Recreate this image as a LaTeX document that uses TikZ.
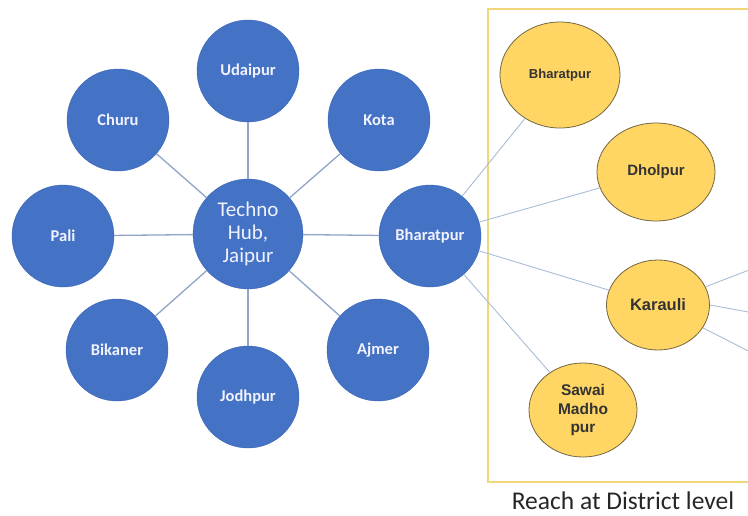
\documentclass[tikz,border=0pt]{standalone}
\usepackage{fontspec}
\setmainfont{Liberation Sans}
\newfontfamily\calibri{Carlito}
\usetikzlibrary{shapes.geometric, positioning}
\definecolor{hubblue}{HTML}{4472C4}
\definecolor{hubedge}{HTML}{3C66B4}
\definecolor{distyellow}{HTML}{FFD663}
\definecolor{distedge}{HTML}{736640}
\definecolor{spokecol}{HTML}{8FA4C6}
\definecolor{linkcol}{HTML}{A9BCD6}
\definecolor{boxcol}{HTML}{F0D878}
\tikzstyle{city} = [circle, minimum size=102pt, inner sep=0pt, draw=hubedge, fill=hubblue, text=white!95!blue, font=\calibri\bfseries\fontsize{16.5}{18}\selectfont]
\tikzstyle{hub} = [city, minimum size=110pt, align=center, font=\calibri\fontsize{21}{23}\selectfont]
\tikzstyle{district} = [ellipse, inner sep=0pt, draw=distedge, line width=0.8pt, fill=distyellow, text=black!80, align=center, font=\bfseries\fontsize{13}{15}\selectfont]
\tikzstyle{spoke} = [draw=spokecol, line width=1.3pt]
\tikzstyle{link} = [draw=linkcol, line width=0.9pt]

\begin{document}
\begin{tikzpicture}[x=1pt, y=-1pt]
    \clip (0,0) rectangle (748,515);
    % district box, right side runs off the page
    \draw [boxcol, line width=1.6pt] (760,9) -- (488,9) -- (488,482) -- (760,482);

    \node (hub) [hub] at (248,234) {Techno\\Hub,\\Jaipur};
    \node (udaipur) [city] at (248,71) {Udaipur};
    \node (kota) [city] at (379,120) {Kota};
    \node (churu) [city] at (118,120) {Churu};
    \node (pali) [city] at (63,236) {Pali};
    \node (bikaner) [city] at (117,350) {Bikaner};
    \node (jodhpur) [city] at (248,397) {Jodhpur};
    \node (ajmer) [city] at (378,350) {Ajmer};
    \node (bharatpur) [city] at (430,236) {Bharatpur};

    \node (dbharatpur) [district, minimum width=120pt, minimum height=106pt] at (560,75) {Bharatpur};
    \node (dholpur) [district, minimum width=118pt, minimum height=98pt, font=\bfseries\fontsize{15}{17}\selectfont] at (656,172) {Dholpur};
    \node (karauli) [district, minimum width=103pt, minimum height=90pt, font=\bfseries\fontsize{16.5}{18}\selectfont] at (658,305) {Karauli};
    \node (sawai) [district, minimum width=108pt, minimum height=94pt, font=\bfseries\fontsize{15.5}{18.5}\selectfont] at (583,410) {Sawai\\Madho\\pur};

    \node (caption) [font=\calibri\fontsize{25.5}{28}\selectfont, text=black!85] at (623,501) {Reach at District level};

    \coordinate (k1) at (770,262);
    \coordinate (k2) at (770,316);
    \coordinate (k3) at (770,362);

    \draw [spoke] (hub) -- (udaipur);
    \draw [spoke] (hub) -- (kota);
    \draw [spoke] (hub) -- (churu);
    \draw [spoke] (hub) -- (pali);
    \draw [spoke] (hub) -- (bikaner);
    \draw [spoke] (hub) -- (jodhpur);
    \draw [spoke] (hub) -- (ajmer);
    \draw [spoke] (hub) -- (bharatpur);

    \draw [link] (bharatpur) -- (dbharatpur);
    \draw [link] (bharatpur) -- (dholpur);
    \draw [link] (bharatpur) -- (karauli);
    \draw [link] (bharatpur) -- (sawai);
    \draw [link] (karauli) -- (k1);
    \draw [link] (karauli.east) -- (k2);
    \draw [link] (karauli) -- (k3);
\end{tikzpicture}
\end{document}
